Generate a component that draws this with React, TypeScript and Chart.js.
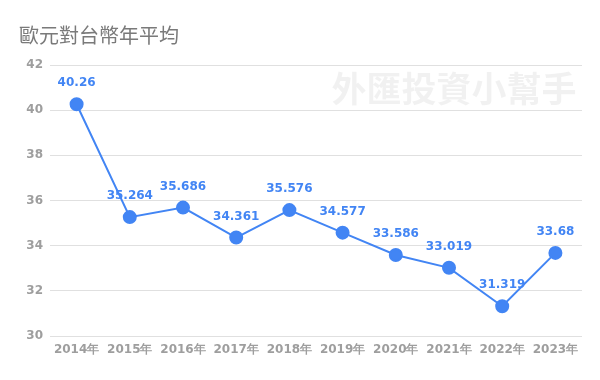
import React, { useEffect, useRef } from "react";
import { Chart, registerables } from "chart.js";

Chart.register(...registerables);

const titleText = "歐元對台幣年平均";
const watermarkText = "外匯投資小幫手";
const categories = ["2014年", "2015年", "2016年", "2017年", "2018年", "2019年", "2020年", "2021年", "2022年", "2023年"];
const rates = [40.26, 35.264, 35.686, 34.361, 35.576, 34.577, 33.586, 33.019, 31.319, 33.68];
const rateLabels = ["40.26", "35.264", "35.686", "34.361", "35.576", "34.577", "33.586", "33.019", "31.319", "33.68"];

const BLUE = "#4285F4";
const TICK_FONT = "'DejaVu Sans'";

const decorPlugin = {
  id: "decor",
  beforeDatasetsDraw(chart: any) {
    const ctx = chart.ctx;
    ctx.save();
    ctx.font = "bold 35px 'Noto Sans CJK TC'";
    ctx.fillStyle = "rgba(0,0,0,0.055)";
    ctx.textAlign = "center";
    ctx.textBaseline = "middle";
    ctx.fillText(watermarkText, 454, 89);
    ctx.restore();
  },
  afterDraw(chart: any) {
    const ctx = chart.ctx;
    ctx.save();
    ctx.font = "20px 'Noto Sans CJK TC'";
    ctx.fillStyle = "#7a7a7a";
    ctx.textAlign = "left";
    ctx.textBaseline = "middle";
    ctx.fillText(titleText, 19, 35);
    const meta = chart.getDatasetMeta(0);
    ctx.font = "bold 12px " + TICK_FONT;
    ctx.fillStyle = BLUE;
    ctx.textAlign = "center";
    ctx.textBaseline = "middle";
    meta.data.forEach((pt: any, i: number) => {
      ctx.fillText(rateLabels[i], pt.x, pt.y - 21);
    });
    ctx.restore();
  },
};

export default function App() {
  const ref = useRef<HTMLCanvasElement>(null);
  useEffect(() => {
    const chart = new Chart(ref.current!, {
      type: "line",
      data: {
        labels: categories,
        datasets: [
          {
            data: rates,
            borderColor: BLUE,
            backgroundColor: BLUE,
            borderWidth: 2,
            pointRadius: 6,
            pointHoverRadius: 6,
            pointBackgroundColor: BLUE,
            pointBorderColor: BLUE,
            tension: 0,
          },
        ],
      },
      options: {
        animation: false,
        responsive: false,
        layout: { padding: { top: 65, right: 18, left: 0, bottom: 0 } },
        plugins: { legend: { display: false }, tooltip: { enabled: false } },
        scales: {
          x: {
            offset: true,
            grid: { display: false, drawTicks: false },
            border: { display: false },
            ticks: {
              color: "#9e9e9e",
              font: { family: TICK_FONT, size: 12, weight: "bold" },
              padding: 7,
              maxRotation: 0,
            },
            afterFit(scale: any) {
              scale.height = 44;
            },
          },
          y: {
            min: 30,
            max: 42,
            ticks: {
              stepSize: 2,
              color: "#9e9e9e",
              font: { family: TICK_FONT, size: 12, weight: "bold" },
              padding: 7,
            },
            grid: { color: "#e0e0e0", lineWidth: 1, drawTicks: false },
            border: { display: false },
            afterFit(scale: any) {
              scale.width = 50;
            },
          },
        },
      },
      plugins: [decorPlugin],
    });
    return () => chart.destroy();
  }, []);
  return (
    <div style={{ position: "fixed", left: 0, top: 0, width: 600, height: 380, background: "#fff" }}>
      <canvas ref={ref} width={600} height={380} style={{ width: 600, height: 380 }} />
    </div>
  );
}
